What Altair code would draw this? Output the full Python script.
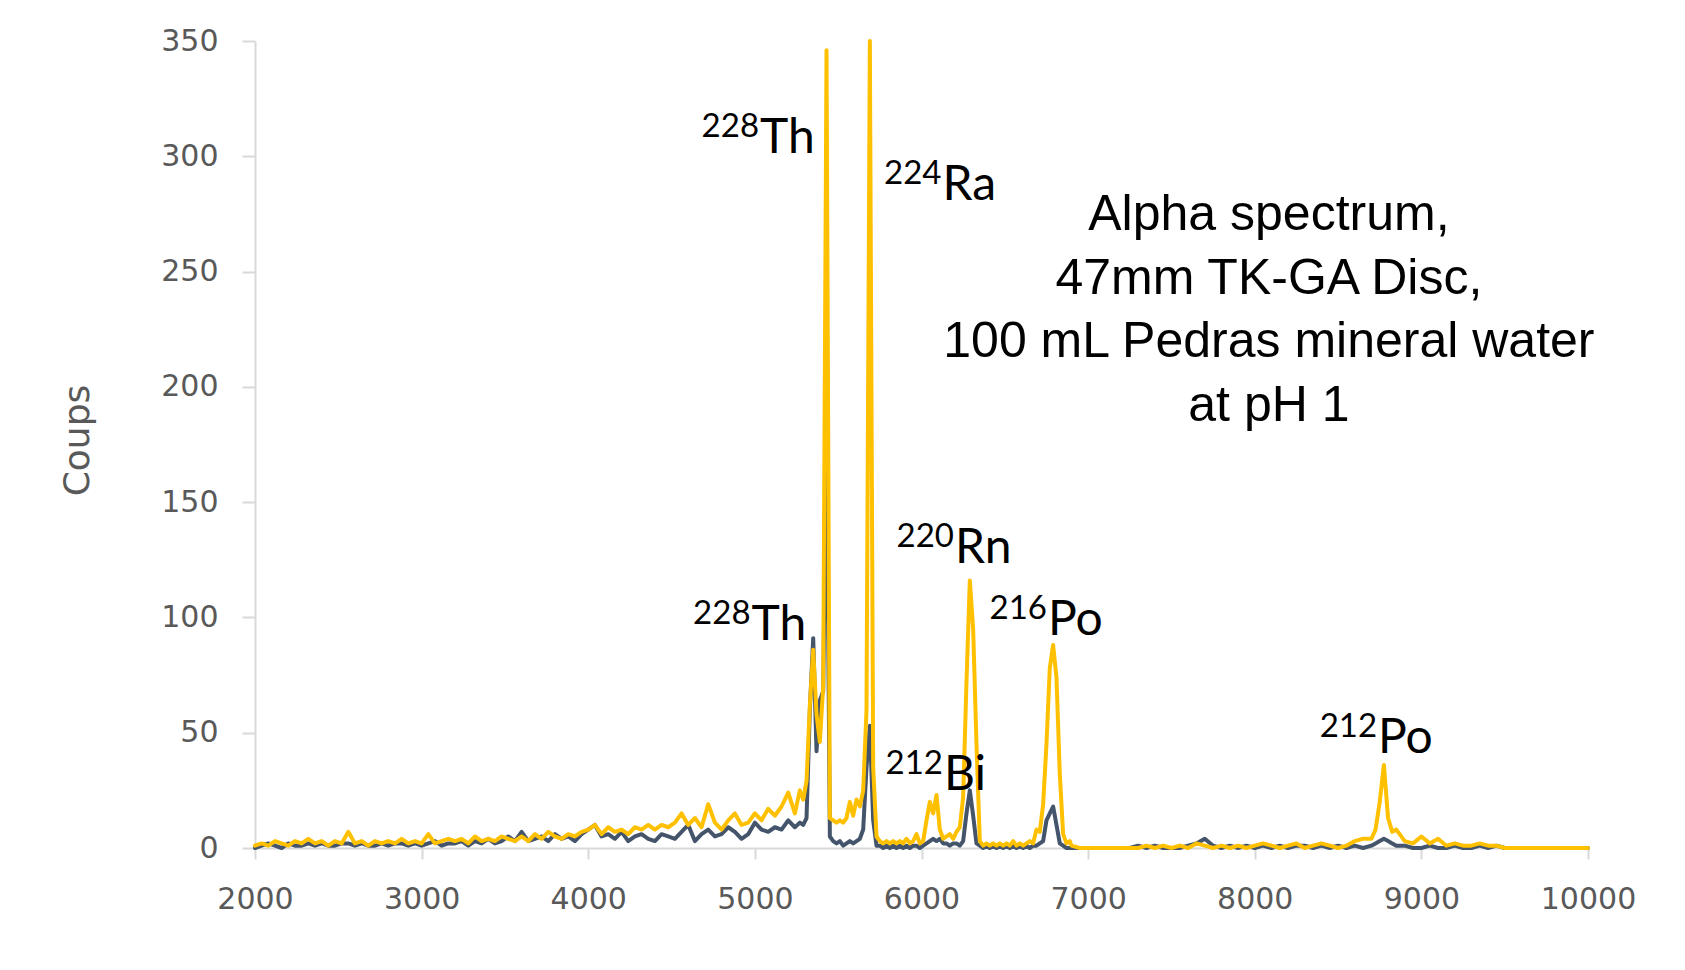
import altair as alt
import pandas as pd

# channel energies (keV) of the spectrum
energy = (list(range(2000, 5270, 40)) + list(range(5270, 6900, 20))
          + list(range(6900, 8700, 50)) + list(range(8700, 8875, 25))
          + list(range(8900, 10001, 50)))

# yellow spectrum (counts)
counts_yellow = (
    [1, 2, 1, 3, 2, 1, 3, 2, 4, 2,
     3, 1, 3, 2, 7, 2, 3, 1, 3, 2,
     3, 2, 4, 2, 3, 2, 6, 2, 3, 4,
     3, 4, 2, 5, 3, 4, 3, 5, 4, 3,
     5, 3, 6, 4, 7, 5, 4, 6, 5, 7,
     8, 10, 6, 9, 7, 8, 6, 9, 8, 10,
     8, 10, 9, 11, 15, 10, 13, 9, 19, 11,
     8, 12, 15, 10, 11, 15, 12, 17, 14, 18,
     24, 15]
    + [25, 21, 29, 62, 86, 58, 46, 70, 346, 13,
       12, 11, 12, 11, 13, 20, 14, 21, 18, 25,
       60, 350, 35, 5, 3, 2, 3, 2, 3, 2,
       3, 2, 4, 2, 3, 6, 2, 3, 12, 20,
       15, 23, 8, 4, 5, 6, 4, 7, 9, 22,
       72, 116, 95, 45, 3, 1, 2, 1, 2, 1,
       2, 1, 2, 1, 3, 1, 2, 1, 2, 3,
       2, 8, 7, 19, 45, 78, 88, 74, 32, 6,
       2, 3]
    + [1, 0, 0, 0, 0, 0, 0, 0, 0, 1, 0, 1, 0, 1, 0, 2, 1, 0,
       1, 0, 1, 0, 1, 2, 1, 0, 1, 2, 0, 1, 2, 1, 0, 1, 3, 4]
    + [4, 8, 20, 36, 13, 7, 8]
    + [3, 2, 5, 2, 4, 1, 2, 1, 1, 2, 1, 1,
       0, 0, 0, 0, 0, 0, 0, 0, 0, 0, 0]
)

# dark spectrum (counts)
counts_dark = (
    [0, 1, 2, 1, 0, 2, 1, 1, 2, 1,
     2, 1, 1, 2, 2, 1, 2, 1, 1, 2,
     1, 2, 2, 1, 2, 1, 2, 3, 1, 2,
     2, 3, 1, 3, 2, 4, 2, 3, 5, 3,
     7, 3, 4, 5, 3, 6, 4, 5, 3, 6,
     8, 10, 5, 6, 4, 7, 3, 5, 6, 4,
     3, 6, 5, 4, 7, 10, 3, 6, 8, 5,
     6, 9, 7, 4, 6, 11, 8, 7, 9, 8,
     12, 9]
    + [11, 10, 13, 60, 91, 42, 64, 68, 185, 5,
       3, 2, 3, 1, 2, 3, 2, 3, 4, 8,
       35, 53, 12, 1, 1, 0, 1, 0, 1, 0,
       1, 0, 1, 0, 1, 1, 0, 1, 2, 3,
       4, 3, 4, 2, 2, 1, 2, 2, 1, 3,
       15, 25, 14, 2, 1, 0, 1, 0, 1, 0,
       1, 0, 1, 0, 1, 0, 1, 0, 1, 0,
       1, 1, 2, 3, 12, 15, 18, 10, 2, 1,
       0, 0]
    + [0, 0, 0, 0, 0, 0, 0, 0, 1, 0, 1, 0, 0, 0, 1, 2, 4, 1,
       0, 1, 0, 1, 0, 1, 0, 1, 0, 1, 1, 0, 1, 0, 1, 0, 1, 0]
    + [1, 2, 3, 4, 3, 2, 1]
    + [1, 0, 0, 1, 0, 0, 1, 0, 0, 1, 0, 1,
       0, 0, 0, 0, 0, 0, 0, 0, 0, 0, 0]
)

# peak labels (mass number, element, anchor in data units)
ann_mass = ["228", "224", "220", "228", "216", "212", "212"]
ann_elem = ["Th", "Ra", "Rn", "Th", "Po", "Bi", "Po"]
ann_x = [5031, 6126, 6201, 4980, 6759, 6135, 8740]
ann_y = [301.4, 281, 123.6, 90.2, 92.4, 25.2, 41.2]

caption_lines = ["Alpha spectrum,", "47mm TK-GA Disc,",
                 "100 mL Pedras mineral water", "at pH 1"]
caption_x = [8085]
caption_y = [268]

x_ticks = [2000, 3000, 4000, 5000, 6000, 7000, 8000, 9000, 10000]
y_ticks = [0, 50, 100, 150, 200, 250, 300, 350]

spec = pd.DataFrame({"E": energy, "yellow": counts_yellow, "dark": counts_dark})
ann = pd.DataFrame({"mass": ann_mass, "elem": ann_elem, "x": ann_x, "y": ann_y})
cap = pd.DataFrame({"x": caption_x, "y": caption_y})

GRAY = "#595959"
AXIS_LINE = "#d9d9d9"

xscale = alt.Scale(domain=[2000, 10000], nice=False, zero=False)
yscale = alt.Scale(domain=[0, 350], nice=False)

xaxis = alt.Axis(values=x_ticks, format="d", title=None, grid=False,
                 domainColor=AXIS_LINE, domainWidth=2, tickColor=AXIS_LINE,
                 tickWidth=2, tickSize=11, labelFont="DejaVu Sans",
                 labelFontSize=30, labelColor=GRAY, labelPadding=25,
                 labelFlush=False, labelOverlap=False)
yaxis = alt.Axis(values=y_ticks, format="d", title="Coups", grid=False,
                 domainColor=AXIS_LINE, domainWidth=2, tickColor=AXIS_LINE,
                 tickWidth=2, tickSize=13, labelFont="DejaVu Sans",
                 labelFontSize=30, labelColor=GRAY, labelPadding=24,
                 labelFlush=False, labelOverlap=False,
                 titleFont="DejaVu Sans", titleFontSize=36,
                 titleFontWeight="normal", titleColor=GRAY, titleAngle=270,
                 titleX=-178, titleY=399, titleAlign="center",
                 titleBaseline="middle")

base = alt.Chart(spec)
dark = base.mark_line(color="#44546A", strokeWidth=4, strokeJoin="round",
                      strokeCap="round").encode(
    x=alt.X("E:Q", scale=xscale, axis=xaxis),
    y=alt.Y("dark:Q", scale=yscale, axis=yaxis),
)
yellow = base.mark_line(color="#FFC000", strokeWidth=4, strokeJoin="round",
                        strokeCap="round").encode(
    x=alt.X("E:Q", scale=xscale),
    y=alt.Y("yellow:Q", scale=yscale),
)

mass_txt = alt.Chart(ann).mark_text(
    font="Lato", fontSize=33, color="black", align="right",
    baseline="alphabetic", dx=-1, dy=-16,
).encode(x=alt.X("x:Q", scale=xscale), y=alt.Y("y:Q", scale=yscale), text="mass:N")

elem_txt = alt.Chart(ann).mark_text(
    font="Lato", fontSize=48, color="black", align="left",
    baseline="alphabetic", dx=0,
).encode(x=alt.X("x:Q", scale=xscale), y=alt.Y("y:Q", scale=yscale), text="elem:N")

caption = alt.Chart(cap).mark_text(
    font="Liberation Sans", fontSize=50, color="black", align="center",
    baseline="alphabetic", lineHeight=63.5, text=caption_lines,
).encode(x=alt.X("x:Q", scale=xscale), y=alt.Y("y:Q", scale=yscale))

chart = alt.layer(dark, yellow, mass_txt, elem_txt, caption).properties(
    width=1333, height=807,
    autosize=alt.AutoSizeParams(type="none"),
    padding={"left": 247, "top": 33, "right": 80, "bottom": 100},
    background="white",
).configure_view(stroke=None)

chart.save("out.html", embed_options={"renderer": "svg", "actions": False})
